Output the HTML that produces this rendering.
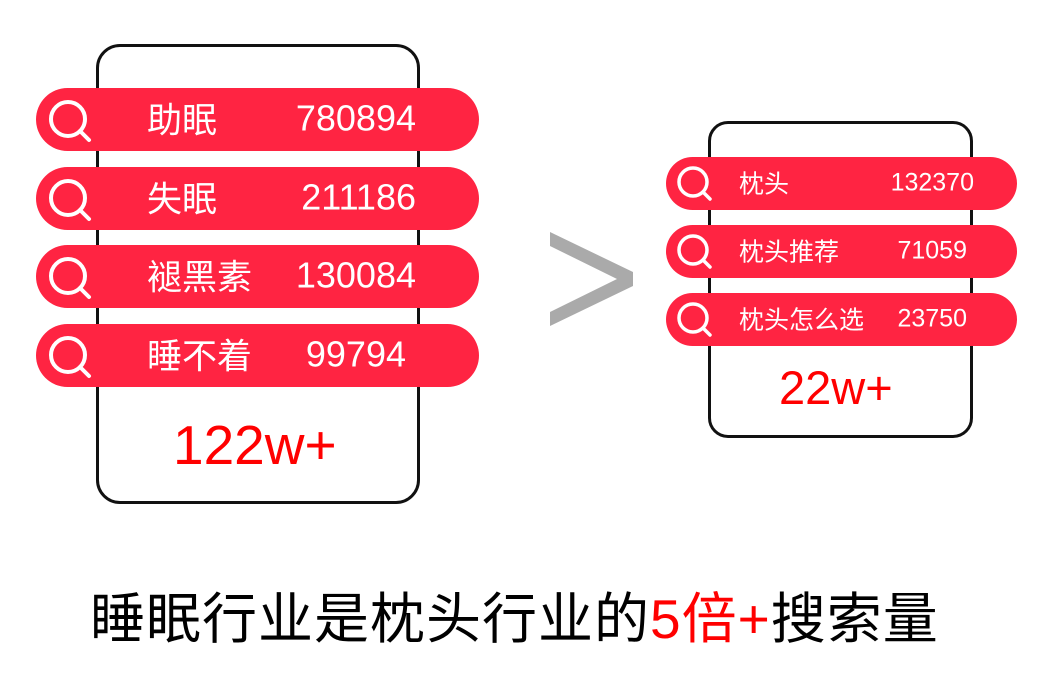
<!DOCTYPE html>
<html><head><meta charset="utf-8"><style>
body{margin:0;width:1055px;height:688px;background:#fff;position:relative;overflow:hidden;font-family:"Liberation Sans","Noto Sans CJK SC",sans-serif}
.ph{position:absolute;border:3px solid #111;box-sizing:border-box}
.p{position:absolute;background:#ff2442;border-radius:40px;color:#fff}
.p span{position:absolute;white-space:nowrap;top:50%;transform:translateY(-54%)}
.p svg{position:absolute}
.a{position:absolute;white-space:nowrap;color:#f00;line-height:1}
</style></head><body>
<div class="ph" style="left:96px;top:44px;width:324px;height:460px;border-radius:24px"></div>
<div class="ph" style="left:708px;top:121px;width:265px;height:317px;border-radius:20px"></div>

<div class="p" style="left:36px;top:88px;width:443px;height:63px"><svg style="left:10px;top:11px" width="50" height="45"><circle cx="22" cy="20" r="17" fill="none" stroke="#fff" stroke-width="4"/><line x1="34" y1="32" x2="43" y2="41" stroke="#fff" stroke-width="4" stroke-linecap="round"/></svg><span style="left:111px;font-size:35px">助眠</span><span style="right:63px;font-size:36px">780894</span></div>
<div class="p" style="left:36px;top:167px;width:443px;height:63px"><svg style="left:10px;top:11px" width="50" height="45"><circle cx="22" cy="20" r="17" fill="none" stroke="#fff" stroke-width="4"/><line x1="34" y1="32" x2="43" y2="41" stroke="#fff" stroke-width="4" stroke-linecap="round"/></svg><span style="left:111px;font-size:35px">失眠</span><span style="right:63px;font-size:36px">211186</span></div>
<div class="p" style="left:36px;top:245px;width:443px;height:63px"><svg style="left:10px;top:11px" width="50" height="45"><circle cx="22" cy="20" r="17" fill="none" stroke="#fff" stroke-width="4"/><line x1="34" y1="32" x2="43" y2="41" stroke="#fff" stroke-width="4" stroke-linecap="round"/></svg><span style="left:111px;font-size:35px">褪黑素</span><span style="right:63px;font-size:36px">130084</span></div>
<div class="p" style="left:36px;top:324px;width:443px;height:63px"><svg style="left:10px;top:11px" width="50" height="45"><circle cx="22" cy="20" r="17" fill="none" stroke="#fff" stroke-width="4"/><line x1="34" y1="32" x2="43" y2="41" stroke="#fff" stroke-width="4" stroke-linecap="round"/></svg><span style="left:111px;font-size:35px">睡不着</span><span style="right:73px;font-size:36px">99794</span></div>

<div class="p" style="left:666px;top:157px;width:351px;height:53px"><svg style="left:8px;top:8px" width="44" height="40"><circle cx="19" cy="17" r="14" fill="none" stroke="#fff" stroke-width="3.5"/><line x1="29" y1="27" x2="36" y2="34" stroke="#fff" stroke-width="3.5" stroke-linecap="round"/></svg><span style="left:73px;font-size:25px">枕头</span><span style="right:43px;font-size:25px">132370</span></div>
<div class="p" style="left:666px;top:225px;width:351px;height:53px"><svg style="left:8px;top:8px" width="44" height="40"><circle cx="19" cy="17" r="14" fill="none" stroke="#fff" stroke-width="3.5"/><line x1="29" y1="27" x2="36" y2="34" stroke="#fff" stroke-width="3.5" stroke-linecap="round"/></svg><span style="left:73px;font-size:25px">枕头推荐</span><span style="right:50px;font-size:25px">71059</span></div>
<div class="p" style="left:666px;top:293px;width:351px;height:53px"><svg style="left:8px;top:8px" width="44" height="40"><circle cx="19" cy="17" r="14" fill="none" stroke="#fff" stroke-width="3.5"/><line x1="29" y1="27" x2="36" y2="34" stroke="#fff" stroke-width="3.5" stroke-linecap="round"/></svg><span style="left:73px;font-size:25px">枕头怎么选</span><span style="right:50px;font-size:25px">23750</span></div>

<svg style="position:absolute;left:545px;top:230px" width="95" height="100"><polygon points="5,2 88,42 88,56 5,96 5,82 72,49 5,16" fill="#aaa"/></svg>

<div class="a" style="left:173px;top:418px;font-size:55px">122w+</div>
<div class="a" style="left:779px;top:364px;font-size:47px">22w+</div>
<div class="a" style="left:90px;top:592px;font-size:55px;letter-spacing:1px;color:#000">睡眠行业是枕头行业的<span style="color:#f00">5倍+</span>搜索量</div>
</body></html>
